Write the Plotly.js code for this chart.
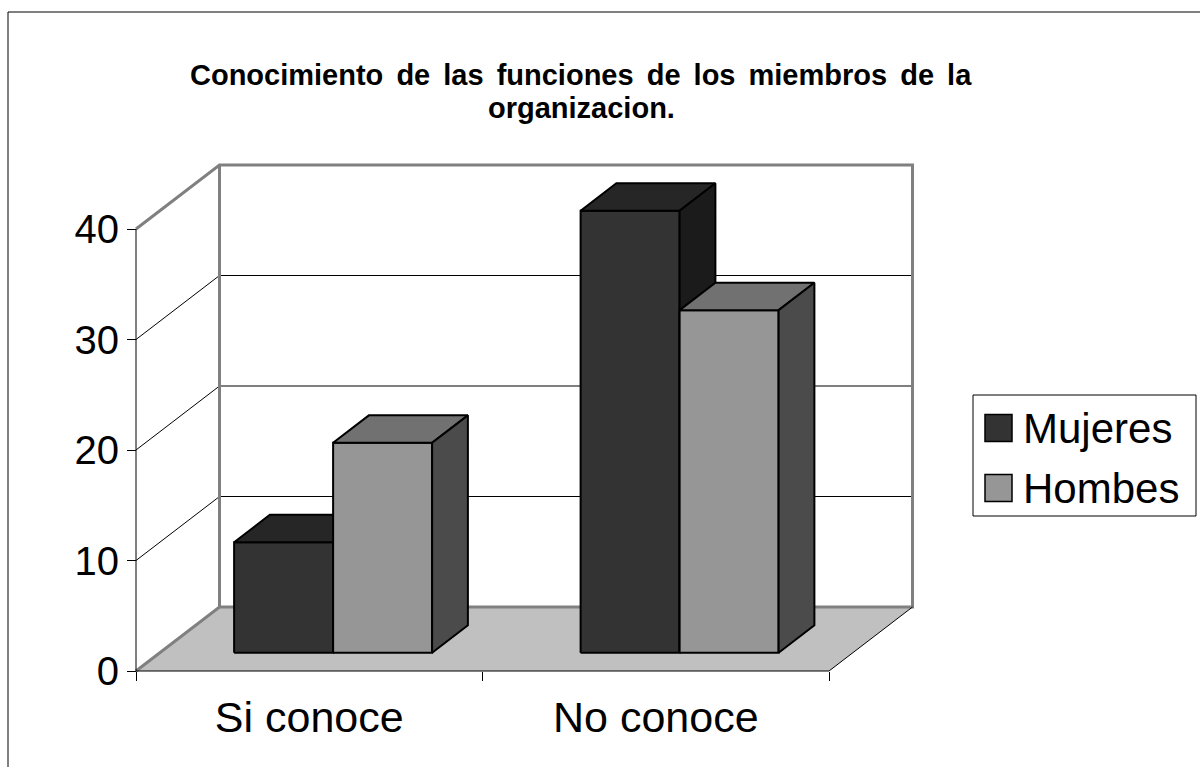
<!DOCTYPE html>
<html>
<head>
<meta charset="utf-8">
<script src="https://cdn.plot.ly/plotly-3.0.1.min.js"></script>
<style>
  html, body { margin: 0; padding: 0; background: #ffffff; }
  #chart { width: 1200px; height: 767px; }
</style>
</head>
<body>
<div id="chart"></div>
<script>
// ---- data ----
const categories = ['Si conoce', 'No conoce'];
const seriesNames = ['Mujeres', 'Hombes'];
const mujeres = [10, 40];
const hombes = [19, 31];
const yTicks = [0, 10, 20, 30, 40];
const titleLines = ['Conocimiento de las funciones de los miembros de la', 'organizacion.'];

// ---- styles ----
const seriesValues = [mujeres, hombes];
const faceColors = [
  { front: '#333333', top: '#262626', side: '#1b1b1b' },
  { front: '#969696', top: '#717171', side: '#4b4b4b' }
];
const FONT = 'Arial, "Liberation Sans", sans-serif';

// ---- geometry (pixel layout of the plot frame) ----
const W_TOTAL = 1200, H_TOTAL = 767;
const M = { l: 116, r: 277, t: 154, b: 86 };
const PW = W_TOTAL - M.l - M.r, PH = H_TOTAL - M.t - M.b;
const ORIGIN_PX = 136, ORIGIN_PY = 671;     // front axis origin
const UX = 346.5;                           // px per category
const UY = 11.05;                           // px per value unit
const DEPTH_PX = [83.5, 64];                // 3-D depth offset (right, up)

const ddx = DEPTH_PX[0] / UX, ddy = DEPTH_PX[1] / UY;
const xRange = [(M.l - ORIGIN_PX) / UX, (M.l + PW - ORIGIN_PX) / UX];
const yRange = [-(H_TOTAL - M.b - ORIGIN_PY) / UY, (ORIGIN_PY - M.t) / UY];
const nCat = categories.length;
const yMax = yTicks[yTicks.length - 1];

function paperX(px) { return (px - M.l) / PW; }
function paperY(py) { return (H_TOTAL - M.b - py) / PH; }

const traces = [];
function poly(xs, ys, fill, lineColor, lineWidth) {
  traces.push({
    type: 'scatter', mode: 'lines', x: xs, y: ys,
    fill: fill ? 'toself' : 'none', fillcolor: fill || undefined,
    line: { color: lineColor || 'rgba(0,0,0,0)', width: lineWidth || 0 },
    hoverinfo: 'skip', showlegend: false
  });
}

// floor
poly([0, nCat, nCat + ddx, ddx, 0], [0, 0, ddy, ddy, 0], '#c0c0c0', null, 0);
// gridlines on back and side walls
yTicks.slice(1, -1).forEach(v => {
  poly([ddx, nCat + ddx], [v + ddy, v + ddy], null, '#000000', 1);
  poly([0, ddx], [v, v + ddy], null, '#000000', 1);
});
// gray wall edges
poly([0, ddx, nCat + ddx, nCat + ddx, ddx, 0],
     [0, ddy, ddy, yMax + ddy, yMax + ddy, yMax], null, '#808080', 3);
poly([ddx, ddx], [ddy, yMax + ddy], null, '#808080', 3);
// black axis lines
poly([0, 0], [0, yMax], null, '#000000', 1);
poly([0, nCat, nCat + ddx], [0, 0, ddy], null, '#000000', 1);

// 3-D bars
const nSer = seriesValues.length;
const bw = 1 / (nSer + 1.5);           // gap width 150%
const d0 = 2 / 7, d1 = 5 / 7;          // depth placement of the bar
for (let c = 0; c < nCat; c++) {
  for (let s = 0; s < nSer; s++) {
    const v = seriesValues[s][c];
    const x0 = c + 0.75 * bw + s * bw, x1 = x0 + bw;
    const fx = d0 * ddx, fy = d0 * ddy, bx = d1 * ddx, by = d1 * ddy;
    const col = faceColors[s];
    // front
    poly([x0 + fx, x1 + fx, x1 + fx, x0 + fx, x0 + fx],
         [fy, fy, v + fy, v + fy, fy], col.front, '#000000', 2);
    // top
    poly([x0 + fx, x1 + fx, x1 + bx, x0 + bx, x0 + fx],
         [v + fy, v + fy, v + by, v + by, v + fy], col.top, '#000000', 2);
    // side
    poly([x1 + fx, x1 + bx, x1 + bx, x1 + fx, x1 + fx],
         [fy, by, v + by, v + fy, fy], col.side, '#000000', 2);
  }
}

// legend (drawn manually to match large swatches)
const shapes = [
  { type: 'rect', xref: 'paper', yref: 'paper',
    x0: paperX(8), x1: paperX(1260), y0: paperY(12), y1: paperY(820),
    line: { color: '#000000', width: 1 }, fillcolor: 'rgba(0,0,0,0)' },
  { type: 'rect', xref: 'paper', yref: 'paper',
    x0: paperX(973), x1: paperX(1196), y0: paperY(395), y1: paperY(516),
    line: { color: '#000000', width: 1 }, fillcolor: '#ffffff' }
];
const titleStyle = 'word-spacing:5px';
const titleLineY = [75, 108];
const annotations = [];
titleLines.forEach((t, i) => {
  annotations.push({ xref: 'paper', yref: 'paper', x: paperX(581), y: paperY(titleLineY[i]),
    xanchor: 'center', yanchor: 'middle', showarrow: false, align: 'center',
    text: '<span style="' + titleStyle + '"><b>' + t + '</b></span>',
    font: { family: FONT, size: 29, color: '#000000' } });
});
const legendRowY = [428, 488];
seriesNames.forEach((name, i) => {
  const cy = legendRowY[i];
  shapes.push({ type: 'rect', xref: 'paper', yref: 'paper',
    x0: paperX(985), x1: paperX(1012), y0: paperY(cy - 13.5), y1: paperY(cy + 13.5),
    line: { color: '#000000', width: 1.5 }, fillcolor: faceColors[i].front });
  annotations.push({ xref: 'paper', yref: 'paper', x: paperX(1021), y: paperY(cy),
    xanchor: 'left', yanchor: 'middle', showarrow: false, text: name,
    font: { family: FONT, size: 42, color: '#000000' } });
});

const layout = {
  width: W_TOTAL, height: H_TOTAL,
  margin: { l: M.l, r: M.r, t: M.t, b: M.b, pad: 0 },
  paper_bgcolor: '#ffffff', plot_bgcolor: 'rgba(0,0,0,0)',
  showlegend: false,
  font: { family: FONT, color: '#000000' },
  xaxis: {
    range: xRange, anchor: 'free', position: paperY(ORIGIN_PY),
    tickmode: 'array', tickvals: categories.map((_, i) => i + 0.5), ticktext: categories,
    ticks: '', showline: false, showgrid: false, zeroline: false,
    ticklabelstandoff: 17,
    tickfont: { family: FONT, size: 43, color: '#000000' },
    minor: { ticks: 'outside', tickmode: 'linear', tick0: 0, dtick: 1, ticklen: 9,
             tickcolor: '#000000', tickwidth: 1, showgrid: false },
    fixedrange: true
  },
  yaxis: {
    range: yRange, anchor: 'free', position: paperX(ORIGIN_PX),
    tickmode: 'array', tickvals: yTicks,
    ticks: 'outside', ticklen: 9, tickcolor: '#000000', tickwidth: 1,
    showline: false, showgrid: false, zeroline: false,
    tickfont: { family: FONT, size: 40, color: '#000000' },
    fixedrange: true
  },
  shapes: shapes,
  annotations: annotations
};

Plotly.newPlot('chart', traces, layout, { displayModeBar: false, staticPlot: true });
</script>
</body>
</html>
